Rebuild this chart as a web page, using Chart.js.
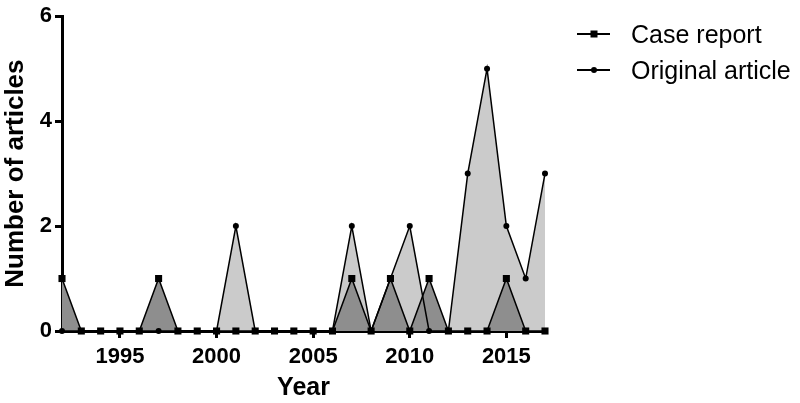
<!DOCTYPE html>
<html>
<head>
<meta charset="utf-8">
<title>Number of articles per year</title>
<script src="https://cdn.jsdelivr.net/npm/chart.js@4/dist/chart.umd.min.js"></script>
<style>
  html, body { margin: 0; padding: 0; background: #fff; }
  #wrap { position: relative; width: 800px; height: 403px; }
  #legend {
    position: absolute; left: 577px; top: 16px;
    font: 25px "Liberation Sans", Arial, sans-serif; color: #000;
  }
  .row { display: flex; align-items: center; height: 36px; }
  .sym { position: relative; width: 33px; height: 2px; background: #000; margin-right: 21px; }
  .sym i { position: absolute; left: 50%; top: 50%; transform: translate(-50%, -50%); background: #000; }
  .sq { width: 7px; height: 7px; }
  .ci { width: 6px; height: 6px; border-radius: 50%; }
</style>
</head>
<body>
<div id="wrap">
  <canvas id="chart" width="800" height="403"></canvas>
  <div id="legend"></div>
</div>
<script>
// data
const years = [1992, 1993, 1994, 1995, 1996, 1997, 1998, 1999, 2000, 2001, 2002, 2003, 2004,
               2005, 2006, 2007, 2008, 2009, 2010, 2011, 2012, 2013, 2014, 2015, 2016, 2017];
const caseReport = [1, 0, 0, 0, 0, 1, 0, 0, 0, 0, 0, 0, 0, 0, 0, 1, 0, 1, 0, 1, 0, 0, 0, 1, 0, 0];
const originalArticle = [0, 0, 0, 0, 0, 0, 0, 0, 0, 2, 0, 0, 0, 0, 0, 2, 0, 1, 2, 0, 0, 3, 5, 2, 1, 3];
const xTicks = [1995, 2000, 2005, 2010, 2015];
const yTicks = [0, 2, 4, 6];

const FONT = '"Liberation Sans", Arial, sans-serif';

function toPoints(values) {
    return values.map((v, i) => ({ x: years[i], y: v }));
}

const series = [
    { label: 'Case report', values: caseReport, fill: '#8e8e8e', style: 'rect', radius: 5, cls: 'sq' },
    { label: 'Original article', values: originalArticle, fill: '#cbcbcb', style: 'circle', radius: 3, cls: 'ci' }
];

// legend: line with marker, like the reference
document.getElementById('legend').innerHTML = series.map(s =>
    `<div class="row"><span class="sym"><i class="${s.cls}"></i></span><span>${s.label}</span></div>`
).join('');

const axisGrid = {
    display: true,
    drawOnChartArea: false,
    drawTicks: true,
    tickLength: 7,
    color: '#000',
    lineWidth: 3
};

new Chart(document.getElementById('chart'), {
    type: 'line',
    data: {
        datasets: series.map(s => ({
            label: s.label,
            data: toPoints(s.values),
            borderColor: '#000',
            borderWidth: 1.5,
            backgroundColor: s.fill,
            fill: 'origin',
            tension: 0,
            pointStyle: s.style,
            pointRadius: s.radius,
            pointBackgroundColor: '#000',
            pointBorderColor: '#000',
            pointBorderWidth: 0,
            clip: false
        }))
    },
    options: {
        responsive: false,
        animation: false,
        layout: { padding: { top: 11, right: 255, left: 0, bottom: 0 } },
        plugins: {
            legend: { display: false },
            tooltip: { enabled: false },
            filler: { drawTime: 'beforeDatasetsDraw' }
        },
        scales: {
            x: {
                type: 'linear',
                min: 1992,
                max: 2017,
                border: { color: '#000', width: 3 },
                grid: axisGrid,
                afterBuildTicks: s => { s.ticks = xTicks.map(v => ({ value: v })); },
                afterFit: s => { s.height = 72; },
                ticks: {
                    color: '#000',
                    padding: 6,
                    maxRotation: 0,
                    font: { family: FONT, size: 22, weight: 'bold' },
                    callback: v => String(v)
                },
                title: {
                    display: true,
                    text: 'Year',
                    color: '#000',
                    font: { family: FONT, size: 25, weight: 'bold' },
                    padding: { top: 0, bottom: 0 }
                }
            },
            y: {
                min: 0,
                max: 6,
                border: { color: '#000', width: 3 },
                grid: axisGrid,
                afterBuildTicks: s => { s.ticks = yTicks.map(v => ({ value: v })); },
                afterFit: s => { s.width = 62; },
                ticks: {
                    color: '#000',
                    padding: 3,
                    font: { family: FONT, size: 22, weight: 'bold' }
                },
                title: {
                    display: true,
                    text: 'Number of articles',
                    color: '#000',
                    font: { family: FONT, size: 26, weight: 'bold' },
                    padding: 0
                }
            }
        }
    }
});
</script>
</body>
</html>
